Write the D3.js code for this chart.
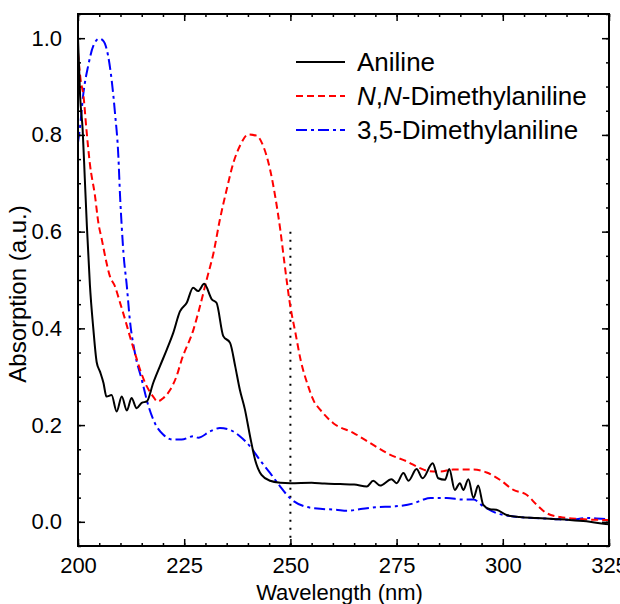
<!DOCTYPE html>
<html>
<head>
<meta charset="utf-8">
<script src="https://cdn.jsdelivr.net/npm/d3@7"></script>
<style>
  html, body { margin: 0; padding: 0; background: #fff; }
  svg { display: block; font-family: "Liberation Sans", Arial, sans-serif; }
</style>
</head>
<body>
<svg id="chart" width="620" height="604"></svg>
<script>
// ---- data ----
const anilineX = [200.0,200.5,201.1,201.6,202.1,202.8,203.6,204.4,205.2,206.0,206.7,207.9,209.1,210.3,211.5,212.6,213.8,215.0,216.2,217.7,219.3,220.9,222.4,224.0,225.6,227.1,228.3,229.7,231.5,232.6,234.2,235.8,237.0,238.1,239.3,240.5,241.7,243.2,245.2,247.6,250,255,258,261.7,265,268,269.5,271.1,273.8,275.0,276.6,277.8,279.7,281.1,283.5,284.8,286.4,287.4,288.7,289.9,290.7,291.9,293.1,294.2,295.4,297.0,298.5,300.9,304.0,308.0,311.9,315.8,319.7,323.7,325];
const anilineY = [1.00,0.88,0.81,0.71,0.61,0.49,0.40,0.33,0.31,0.287,0.259,0.262,0.228,0.259,0.230,0.256,0.235,0.246,0.249,0.287,0.322,0.356,0.39,0.435,0.453,0.484,0.477,0.492,0.460,0.453,0.384,0.370,0.322,0.273,0.232,0.177,0.128,0.097,0.085,0.081,0.080,0.081,0.079,0.078,0.077,0.073,0.085,0.075,0.088,0.080,0.101,0.085,0.109,0.090,0.121,0.090,0.087,0.109,0.066,0.080,0.066,0.088,0.049,0.075,0.035,0.026,0.025,0.014,0.010,0.008,0.006,0.004,0.001,-0.004,-0.005];

const dmaX = [200.0,200.6,201.3,202.0,202.8,204.0,204.8,205.6,206.7,207.5,208.7,209.9,211.1,212.2,213.4,214.6,216.2,217.7,218.7,220.1,221.7,223.2,224.4,227.2,228.3,230.3,231.9,233.4,235.0,236.6,238.1,240.1,242.1,243.6,245.2,246.4,247.6,248.7,249.9,251.2,252.4,254.2,255.5,257.0,260.1,264.8,269.5,273.4,277.4,280.5,282.5,285.2,288.3,293.1,296.2,299.3,302.5,305.6,308.0,310.3,313.5,318.2,322.9,325];
const dmaY = [0.97,0.915,0.88,0.81,0.74,0.674,0.618,0.584,0.536,0.508,0.487,0.453,0.418,0.384,0.349,0.315,0.280,0.259,0.249,0.256,0.273,0.301,0.335,0.398,0.432,0.501,0.556,0.625,0.687,0.743,0.777,0.801,0.798,0.777,0.729,0.674,0.605,0.528,0.45,0.39,0.335,0.28,0.25,0.232,0.204,0.184,0.159,0.139,0.125,0.111,0.105,0.104,0.108,0.108,0.102,0.087,0.066,0.056,0.035,0.018,0.010,0.006,0.004,0.004];

const dma35X = [200.0,200.5,201.2,202.4,203.6,205.0,206.0,207.1,207.9,208.7,209.5,209.9,210.3,210.7,211.5,212.2,213.4,215.0,216.6,218.1,220.1,222.4,224.4,227.1,228.3,231.1,233.4,235.8,238.1,240.5,242.8,245.2,247.6,249.9,253.3,257,260.7,263.5,267,270.0,274.7,279.3,281.3,283.0,286.8,290.7,293.1,295.4,298.5,302.5,307.2,311.9,315.8,319.7,324.4,325];
const dma35Y = [0.784,0.818,0.881,0.943,0.984,0.999,0.994,0.963,0.915,0.846,0.756,0.674,0.610,0.556,0.487,0.418,0.349,0.294,0.239,0.204,0.180,0.170,0.170,0.177,0.174,0.187,0.194,0.190,0.177,0.156,0.128,0.101,0.073,0.049,0.032,0.027,0.025,0.023,0.027,0.030,0.032,0.039,0.046,0.049,0.049,0.046,0.046,0.032,0.018,0.011,0.008,0.006,0.004,0.008,0.006,0.006];

const xTicks = [200, 225, 250, 275, 300, 325];
const yTicks = [0.0, 0.2, 0.4, 0.6, 0.8, 1.0];
const legendLabels = ["Aniline", "N,N-Dimethylaniline", "3,5-Dimethylaniline"];
const markerX = [250, 250];
const markerY = [0.6, -0.05];

// ---- layout ----
const svg = d3.select("#chart");
const L = 78, R = 609, T = 14, B = 546;
const x = d3.scaleLinear().domain([200, 325]).range([L, R]);
const y = d3.scaleLinear().domain([-0.05, 1.05]).range([B, T]);

const clipId = "plotclip";
svg.append("defs").append("clipPath").attr("id", clipId)
  .append("rect").attr("x", L).attr("y", T).attr("width", R - L).attr("height", B - T);

const series = [
  { xs: anilineX, ys: anilineY, color: "#000000", dash: null },
  { xs: dmaX, ys: dmaY, color: "#ff0000", dash: "7,4" },
  { xs: dma35X, ys: dma35Y, color: "#0000ff", dash: "11,4,3,4" }
];

const line = d3.line().x(d => x(d[0])).y(d => y(d[1])).curve(d3.curveMonotoneX);
const g = svg.append("g").attr("clip-path", `url(#${clipId})`);

// dotted marker
g.append("path")
  .datum(d3.zip(markerX, markerY))
  .attr("d", d3.line().x(d => x(d[0])).y(d => y(d[1])))
  .attr("fill", "none").attr("stroke", "#000").attr("stroke-width", 2)
  .attr("stroke-dasharray", "2,6");

series.slice().reverse().forEach(s => {
  g.append("path")
    .datum(d3.zip(s.xs, s.ys))
    .attr("d", line)
    .attr("fill", "none")
    .attr("stroke", s.color)
    .attr("stroke-width", 2)
    .attr("stroke-dasharray", s.dash);
});

// ---- axes ----
const minorX = d3.range(200, 326, 5);
const minorY = d3.range(-0.05, 1.051, 0.05).map(v => +v.toFixed(2));
function styleAxis(sel) {
  sel.select(".domain").remove();
  sel.selectAll("line").attr("stroke", "#000").attr("stroke-width", 1.5);
  sel.selectAll("text").attr("font-size", 22).attr("fill", "#000");
}
// bottom
svg.append("g").attr("transform", `translate(0,${B})`)
  .call(d3.axisBottom(x).tickValues(minorX).tickSize(-3).tickFormat(""))
  .call(styleAxis);
svg.append("g").attr("transform", `translate(0,${B})`)
  .call(d3.axisBottom(x).tickValues(xTicks).tickSize(-7).tickPadding(11).tickFormat(d3.format("d")))
  .call(styleAxis);
// top
svg.append("g").attr("transform", `translate(0,${T})`)
  .call(d3.axisTop(x).tickValues(minorX).tickSize(-3).tickFormat(""))
  .call(styleAxis);
svg.append("g").attr("transform", `translate(0,${T})`)
  .call(d3.axisTop(x).tickValues(xTicks).tickSize(-7).tickFormat(""))
  .call(styleAxis);
// left
svg.append("g").attr("transform", `translate(${L},0)`)
  .call(d3.axisLeft(y).tickValues(minorY).tickSize(-3).tickFormat(""))
  .call(styleAxis);
svg.append("g").attr("transform", `translate(${L},0)`)
  .call(d3.axisLeft(y).tickValues(yTicks).tickSize(-7).tickPadding(16).tickFormat(d3.format(".1f")))
  .call(styleAxis);
// right
svg.append("g").attr("transform", `translate(${R},0)`)
  .call(d3.axisRight(y).tickValues(minorY).tickSize(-3).tickFormat(""))
  .call(styleAxis);
svg.append("g").attr("transform", `translate(${R},0)`)
  .call(d3.axisRight(y).tickValues(yTicks).tickSize(-7).tickFormat(""))
  .call(styleAxis);

// frame
svg.append("rect").attr("x", L).attr("y", T).attr("width", R - L).attr("height", B - T)
  .attr("fill", "none").attr("stroke", "#000").attr("stroke-width", 2);

// axis titles
svg.append("text").attr("x", (L + R) / 2 - 4).attr("y", 600)
  .attr("text-anchor", "middle").attr("font-size", 22).text("Wavelength (nm)");
svg.append("text").attr("transform", `translate(26,294) rotate(-90)`)
  .attr("text-anchor", "middle").attr("font-size", 24).text("Absorption (a.u.)");

// legend
const lg = svg.append("g");
series.forEach((s, i) => {
  const ly = 62 + i * 34;
  lg.append("line").attr("x1", 296).attr("x2", 345).attr("y1", ly).attr("y2", ly)
    .attr("stroke", s.color).attr("stroke-width", 2).attr("stroke-dasharray", s.dash);
  const t = lg.append("text").attr("x", 357).attr("y", ly + 9).attr("font-size", 26);
  if (i === 1) {
    t.append("tspan").attr("font-style", "italic").text("N");
    t.append("tspan").text(",");
    t.append("tspan").attr("font-style", "italic").text("N");
    t.append("tspan").text("-Dimethylaniline");
  } else {
    t.text(legendLabels[i]);
  }
});
</script>
</body>
</html>
